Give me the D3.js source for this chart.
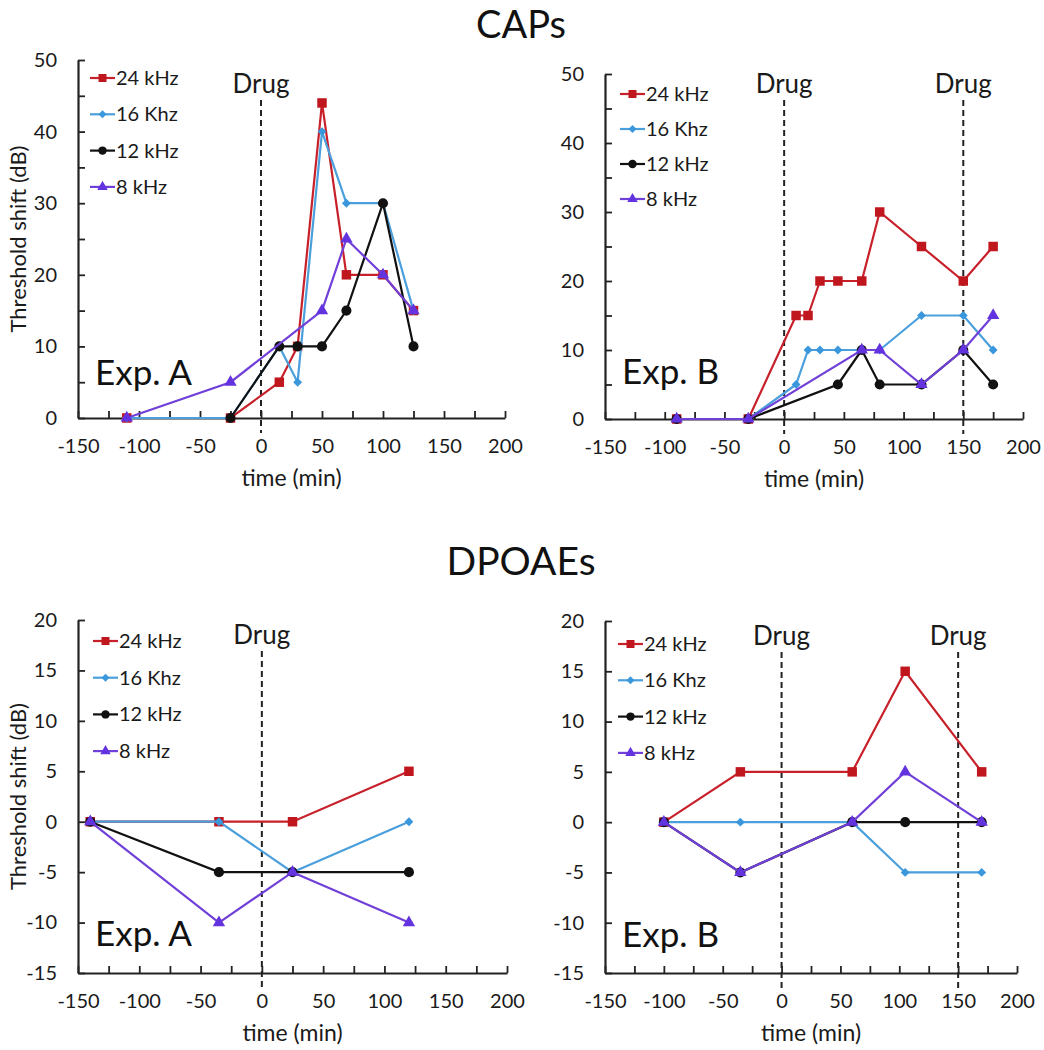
<!DOCTYPE html>
<html><head><meta charset="utf-8">
<script src="https://cdn.jsdelivr.net/npm/d3@7"></script>
<style>
html,body{margin:0;padding:0;background:#fff;}
svg{display:block;font-family:Lato,"Open Sans",sans-serif;}
</style></head>
<body><svg id="chart" width="1044" height="1050"></svg>
<script>
// ---------- DATA ----------
const seriesNames = ["24 kHz", "16 Khz", "12 kHz", "8 kHz"];
const xTickValues = [-150, -100, -50, 0, 50, 100, 150, 200];
const capsYTicks = [0, 10, 20, 30, 40, 50];
const dpoaeYTicks = [-15, -10, -5, 0, 5, 10, 15, 20];

// CAPs, Exp. A  [time (min), threshold shift (dB)]
const capsA_24 = [[-110,0],[-25,0],[15,5],[30,10],[50,44],[70,20],[100,20],[125,15]];
const capsA_16 = [[-110,0],[-25,0],[15,10],[30,5],[50,40],[70,30],[100,30],[125,15]];
const capsA_12 = [[-25,0],[15,10],[30,10],[50,10],[70,15],[100,30],[125,10]];
const capsA_8  = [[-110,0],[-25,5],[50,15],[70,25],[100,20],[125,15]];
// CAPs, Exp. B
const capsB_24 = [[-90,0],[-30,0],[10,15],[20,15],[30,20],[45,20],[65,20],[80,30],[115,25],[150,20],[175,25]];
const capsB_16 = [[-90,0],[-30,0],[10,5],[20,10],[30,10],[45,10],[65,10],[80,10],[115,15],[150,15],[175,10]];
const capsB_12 = [[-90,0],[-30,0],[45,5],[65,10],[80,5],[115,5],[150,10],[175,5]];
const capsB_8  = [[-90,0],[-30,0],[65,10],[80,10],[115,5],[150,10],[175,15]];
// DPOAEs, Exp. A
const dpA_24 = [[-140,0],[-35,0],[25,0],[120,5]];
const dpA_16 = [[-140,0],[-35,0],[25,-5],[120,0]];
const dpA_12 = [[-140,0],[-35,-5],[25,-5],[120,-5]];
const dpA_8  = [[-140,0],[-35,-10],[25,-5],[120,-10]];
// DPOAEs, Exp. B
const dpB_24 = [[-100,0],[-35,5],[60,5],[105,15],[170,5]];
const dpB_16 = [[-100,0],[-35,0],[60,0],[105,-5],[170,-5]];
const dpB_12 = [[-100,0],[-35,-5],[60,0],[105,0],[170,0]];
const dpB_8  = [[-100,0],[-35,-5],[60,0],[105,5],[170,0]];

const drugTimesA = [0];
const drugTimesB = [0, 150];

// ---------- STYLE ----------
const colors = ["#c0161e", "#3b97dc", "#111111", "#6433e0"];
const lineColors = ["#c8202a", "#4a9fdc", "#111111", "#7040d8"];
const symbols = ["square", "diamond", "circle", "triangle"];

const svg = d3.select("#chart");
const textColor = "#1a1a1a";

svg.append("text").attr("x", 521).attr("y", 38).attr("text-anchor", "middle")
  .attr("font-size", 38).attr("fill", "#111").text("CAPs");
svg.append("text").attr("x", 521).attr("y", 575).attr("text-anchor", "middle")
  .attr("font-size", 39).attr("fill", "#111").text("DPOAEs");

function markerPath(kind, size) {
  if (kind === "square") return d3.symbol().type(d3.symbolSquare).size(size)();
  if (kind === "circle") return d3.symbol().type(d3.symbolCircle).size(size)();
  if (kind === "triangle") return d3.symbol().type(d3.symbolTriangle).size(size)();
  const r = Math.sqrt(size) * 0.72;
  return `M0,${-r}L${r},0L0,${r}L${-r},0Z`;
}
const markerSizes = {square: 90, diamond: 38, circle: 80, triangle: 66};
const legendSizes = {square: 64, diamond: 30, circle: 56, triangle: 48};

function panel(cfg) {
  const x = d3.scaleLinear().domain([-150, 200]).range([cfg.x0, cfg.x1]);
  const y = d3.scaleLinear().domain(cfg.yDomain).range([cfg.yb, cfg.yt]);
  const g = svg.append("g");

  const xAll = d3.range(-150, 201, 25);
  const xa = d3.axisBottom(x).tickValues(xAll).tickSizeInner(-7).tickSizeOuter(0).tickPadding(21)
    .tickFormat(d => xTickValues.includes(d) ? String(d) : "");
  const gx = g.append("g").attr("transform", `translate(0,${cfg.yb})`).call(xa);
  gx.select(".domain").attr("stroke", "#222").attr("stroke-width", 2.2);
  gx.selectAll(".tick line").attr("stroke", "#222").attr("stroke-width", 1.8);
  gx.selectAll("text").attr("font-size", 20).attr("fill", textColor).attr("font-family", "Lato,'Open Sans',sans-serif");

  const yAll = d3.range(cfg.yDomain[0], cfg.yDomain[1] + 0.01, 5);
  const ya = d3.axisLeft(y).tickValues(yAll).tickSizeInner(-7).tickSizeOuter(0).tickPadding(cfg.yPad)
    .tickFormat(d => cfg.yTicks.includes(d) ? String(d) : "");
  const gy = g.append("g").attr("transform", `translate(${cfg.x0},0)`).call(ya);
  gy.select(".domain").attr("stroke", "#222").attr("stroke-width", 2.2);
  gy.selectAll(".tick line").attr("stroke", "#222").attr("stroke-width", 1.8);
  gy.selectAll("text").attr("font-size", 20).attr("fill", textColor).attr("font-family", "Lato,'Open Sans',sans-serif");

  g.append("text").attr("x", (cfg.x0 + cfg.x1) / 2).attr("y", cfg.yb + 68).attr("text-anchor", "middle")
    .attr("font-size", 23).attr("fill", textColor).text("time (min)");
  if (cfg.yTitle) {
    g.append("text").attr("transform", `translate(26,${(cfg.yb + cfg.yt) / 2}) rotate(-90)`)
      .attr("text-anchor", "middle").attr("font-size", 22).attr("fill", textColor).text("Threshold shift (dB)");
  }

  cfg.drugs.forEach(t => {
    g.append("line").attr("x1", x(t)).attr("x2", x(t)).attr("y1", cfg.drugTop).attr("y2", cfg.yb + 15)
      .attr("stroke", "#222").attr("stroke-width", 2).attr("stroke-dasharray", "6,4");
    g.append("text").attr("x", x(t)).attr("y", cfg.drugTop - 7).attr("text-anchor", "middle")
      .attr("font-size", 26).attr("fill", textColor).text("Drug");
  });

  g.append("text").attr("x", cfg.x0 + 17).attr("y", cfg.expY).attr("font-size", 35).attr("fill", "#111").text(cfg.exp);

  const line = d3.line().x(d => x(d[0])).y(d => y(d[1]));
  cfg.series.forEach((s, i) => {
    g.append("path").datum(s).attr("d", line).attr("fill", "none")
      .attr("stroke", lineColors[i]).attr("stroke-width", 2.2);
    g.selectAll(null).data(s).enter().append("path")
      .attr("transform", d => `translate(${x(d[0])},${y(d[1])})`)
      .attr("d", markerPath(symbols[i], markerSizes[symbols[i]]))
      .attr("fill", colors[i]);
  });

  seriesNames.forEach((name, i) => {
    const ly = cfg.legY + i * cfg.legStep;
    g.append("line").attr("x1", cfg.legX).attr("x2", cfg.legX + 25).attr("y1", ly).attr("y2", ly)
      .attr("stroke", lineColors[i]).attr("stroke-width", 2.2);
    g.append("path").attr("transform", `translate(${cfg.legX + 12.5},${ly})`)
      .attr("d", markerPath(symbols[i], legendSizes[symbols[i]])).attr("fill", colors[i]);
    g.append("text").attr("x", cfg.legX + 26).attr("y", ly + 7).attr("font-size", 20)
      .attr("fill", textColor).text(name);
  });
}

panel({x0: 78, x1: 505, yb: 418, yt: 60, yDomain: [0, 50], yTicks: capsYTicks, yPad: 21, yTitle: true,
  drugs: drugTimesA, drugTop: 100, exp: "Exp. A", expY: 385, legX: 90, legY: 78, legStep: 36.3,
  series: [capsA_24, capsA_16, capsA_12, capsA_8]});
panel({x0: 605, x1: 1023, yb: 419, yt: 74, yDomain: [0, 50], yTicks: capsYTicks, yPad: 21, yTitle: false,
  drugs: drugTimesB, drugTop: 100, exp: "Exp. B", expY: 384, legX: 620, legY: 94, legStep: 35,
  series: [capsB_24, capsB_16, capsB_12, capsB_8]});
panel({x0: 78, x1: 507, yb: 973, yt: 620, yDomain: [-15, 20], yTicks: dpoaeYTicks, yPad: 21, yTitle: true,
  drugs: drugTimesA, drugTop: 651, exp: "Exp. A", expY: 946, legX: 93, legY: 641, legStep: 36.7,
  series: [dpA_24, dpA_16, dpA_12, dpA_8]});
panel({x0: 605, x1: 1017, yb: 973, yt: 621, yDomain: [-15, 20], yTicks: dpoaeYTicks, yPad: 21, yTitle: false,
  drugs: drugTimesB, drugTop: 652, exp: "Exp. B", expY: 947, legX: 618, legY: 644, legStep: 36.3,
  series: [dpB_24, dpB_16, dpB_12, dpB_8]});
</script></body></html>
